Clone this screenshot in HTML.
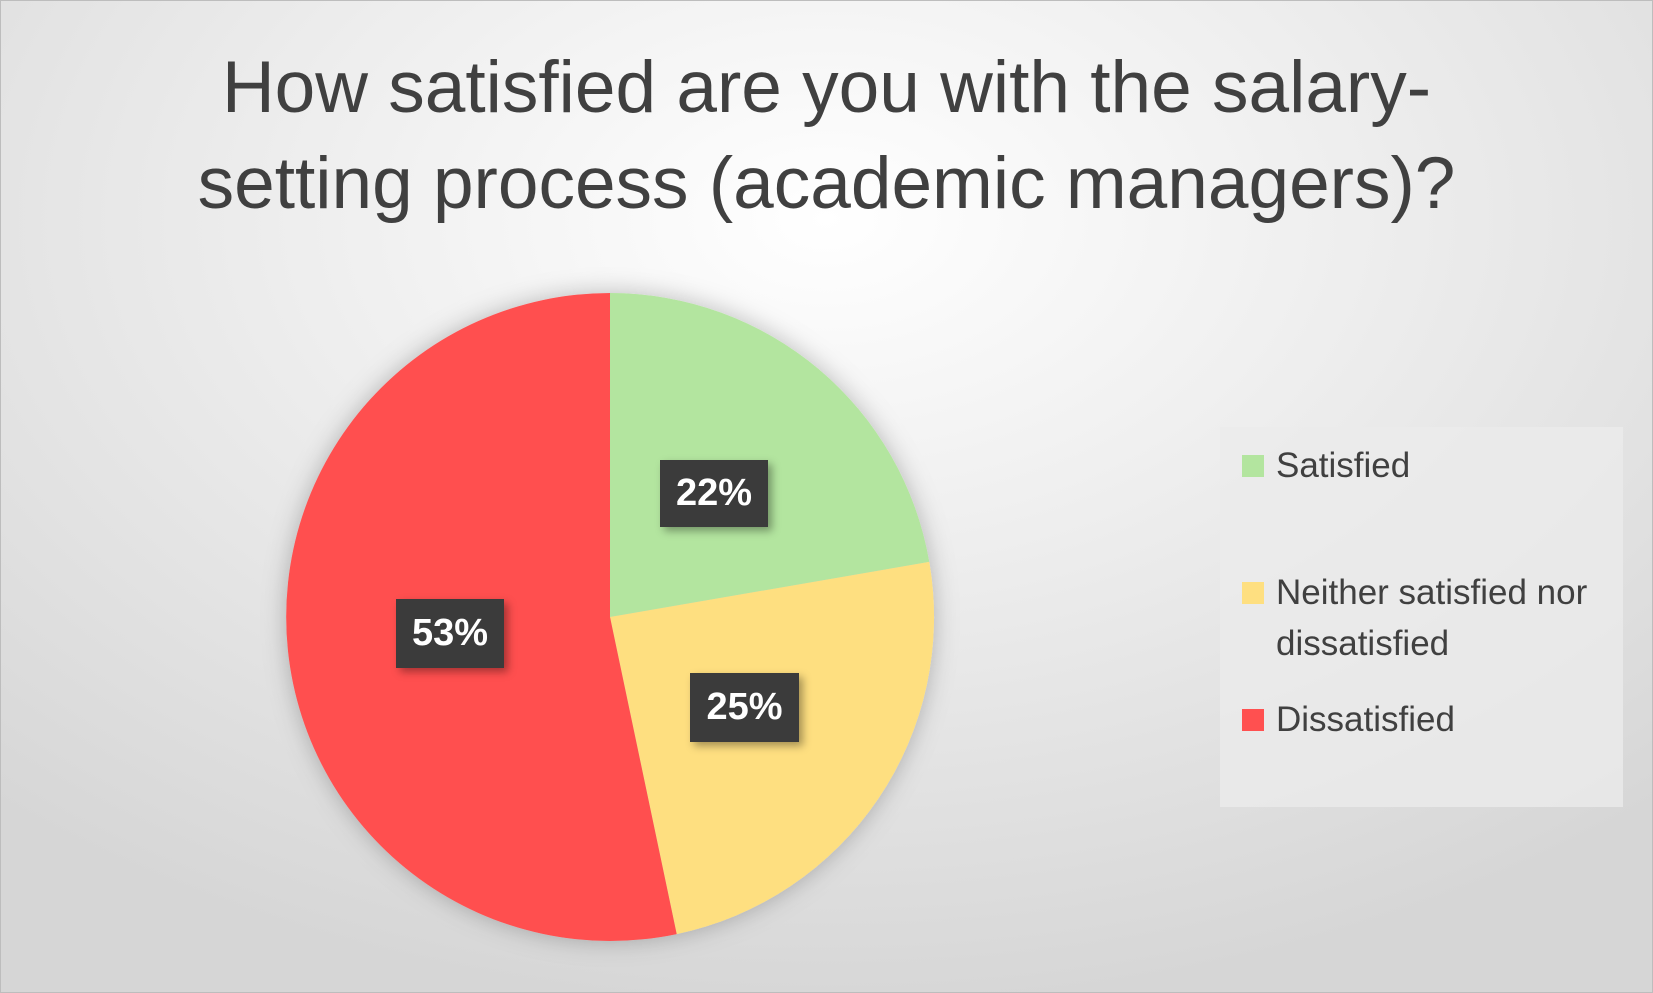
<!DOCTYPE html>
<html><head><meta charset="utf-8"><style>
html,body{margin:0;padding:0}
body{width:1653px;height:993px;overflow:hidden;font-family:"Liberation Sans",sans-serif}
.bg{position:absolute;left:0;top:0;width:1651px;height:991px;border:1px solid #bdbdbd;background:radial-gradient(ellipse 75% 80% at 50% 22%,#ffffff 0%,#ededed 45%,#d6d6d6 100%)}
.title{position:absolute;left:0;width:1653px;text-align:center;color:#404040;font-size:73px;line-height:96px;top:40px}
.legend{position:absolute;left:1220px;top:427px;width:403px;height:380px;background:rgba(235,235,235,0.8)}
.li{position:absolute;left:22px;font-size:35px;color:#404040;line-height:51px}
.sw{position:absolute;left:0;width:22px;height:22px}
.li span{margin-left:34px;display:block}
.lab{position:absolute;background:#3b3b3b;color:#fff;font-weight:bold;font-size:38px;text-align:center;box-shadow:4px 4px 8px rgba(0,0,0,0.35)}
</style></head><body>
<div class="bg"></div>
<div class="title">How satisfied are you with the salary-<br>setting process (academic managers)?</div>
<svg style="position:absolute;left:0;top:0" width="1653" height="993">
<defs><filter id="s" x="-20%" y="-20%" width="140%" height="140%"><feDropShadow dx="0" dy="0" stdDeviation="12" flood-color="#000" flood-opacity="0.25"/></filter></defs>
<g filter="url(#s)">
<path d="M610,617 L610,293 A324,324 0 0 1 929.3,561.9 Z" fill="#b3e59f"/>
<path d="M610,617 L929.3,561.9 A324,324 0 0 1 676.7,934.1 Z" fill="#fedf80"/>
<path d="M610,617 L676.7,934.1 A324,324 0 1 1 610,293 Z" fill="#ff5050"/>
</g>
</svg>
<div class="lab" style="left:660px;top:460px;width:108px;height:67px;line-height:67px">22%</div>
<div class="lab" style="left:690px;top:673px;width:109px;height:69px;line-height:69px">25%</div>
<div class="lab" style="left:396px;top:599px;width:108px;height:69px;line-height:69px">53%</div>
<div class="legend">
<div class="li" style="top:13px"><div class="sw" style="top:15px;background:#b3e59f"></div><span>Satisfied</span></div>
<div class="li" style="top:140px"><div class="sw" style="top:15px;background:#fedf80"></div><span>Neither satisfied nor<br>dissatisfied</span></div>
<div class="li" style="top:267px"><div class="sw" style="top:15px;background:#ff5050"></div><span>Dissatisfied</span></div>
</div>
</body></html>
